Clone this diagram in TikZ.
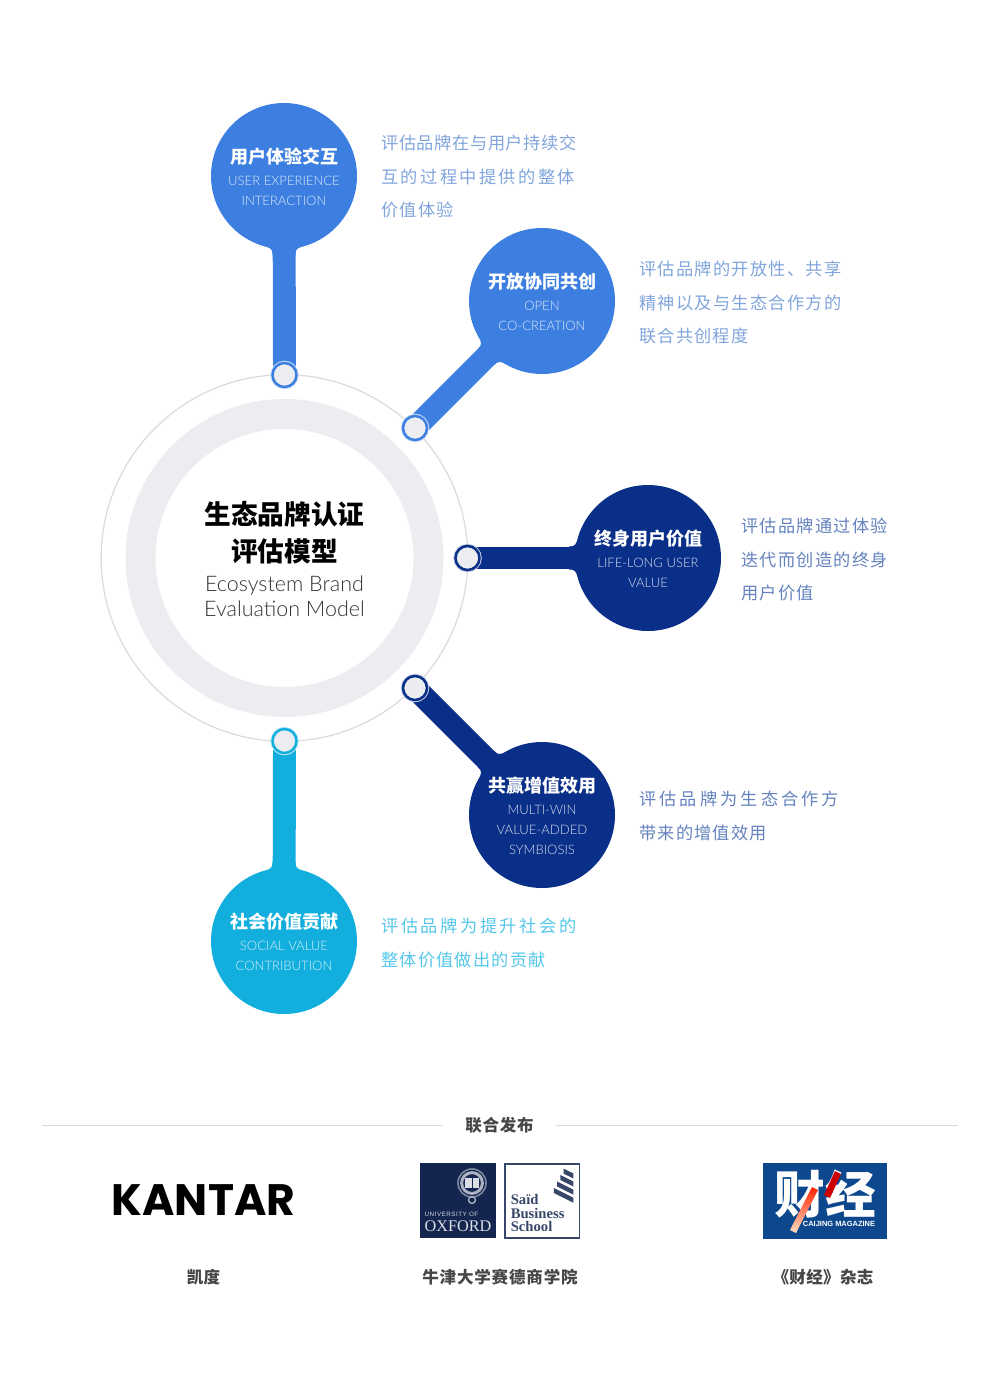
\documentclass[tikz,border=0pt]{standalone}
\usepackage{fontspec}
\usepackage{xcolor}
\usetikzlibrary{backgrounds}
\setmainfont{Noto Sans CJK SC}
\newfontfamily\enfont{Lato Light}
\newfontfamily\logofont{Poppins}
\newfontfamily\oxfont{Liberation Serif}
\newfontfamily\smallfont{Liberation Sans}
\definecolor{ringgrey}{RGB}{236, 237, 240}
\definecolor{linegrey}{RGB}{218, 218, 220}
\definecolor{midblue}{RGB}{60, 127, 224}
\definecolor{deepblue}{RGB}{10, 47, 136}
\definecolor{skyblue}{RGB}{18, 174, 221}
\definecolor{deskblue}{RGB}{128, 165, 220}
\definecolor{desknavy}{RGB}{100, 130, 190}
\definecolor{deskcyan}{RGB}{85, 198, 234}
\definecolor{oxnavy}{RGB}{20, 38, 80}
\definecolor{cjblue}{RGB}{13, 72, 142}
\definecolor{labelgrey}{RGB}{70, 70, 70}
\newcommand{\bubcn}{\rmfamily\fontsize{13.5}{18}\selectfont\bfseries\color{white}\rule{0pt}{12.5pt}}
\newcommand{\buben}{\enfont\fontsize{9.8}{15}\selectfont}
\newcommand{\lsp}[2]{{\addfontfeature{LetterSpace=#1}#2}}

\begin{document}
\begin{tikzpicture}[
  x=0.75pt, y=-0.75pt,
  bubble/.style={circle, inner sep=0pt, outer sep=0pt, minimum size=109.5pt, align=center,
    text=white!82!#1, fill=#1, font=\buben},
  dot/.style={circle, inner sep=0pt, outer sep=0pt, minimum size=18pt, fill=ringgrey, draw=#1,
    line width=1.9pt, preaction={draw=white!75!#1, line width=3.4pt}},
  stem/.style={line width=17.2pt, color=#1},
  desk/.style={anchor=north west, inner sep=0pt, align=left, text=#1,
    font=\fontsize{12.9}{25.1}\selectfont},
  caption/.style={inner sep=0pt, text=labelgrey, font=\fontsize{12.4}{16}\selectfont\bfseries}
]
  \useasboundingbox (0,0) rectangle (1000,1388);

  % centre
  \node[circle, draw=linegrey, line width=0.9pt, minimum size=275pt, inner sep=0pt] (outer) at (284.5,558) {};
  \node[circle, draw=ringgrey, line width=22.5pt, minimum size=216pt, inner sep=0pt] (ring) at (284.5,558) {};
  \node[inner sep=0pt, align=center, font=\fontsize{20}{28}\selectfont\bfseries] (title) at (284.5,533)
    {生态品牌认证\\评估模型};
  \node[inner sep=0pt, align=center, text=black!80, font=\enfont\fontsize{16.1}{18.8}\selectfont] (titleen) at (284.5,596)
    {Ecosystem Brand\\Evaluation Model};

  % bubbles
  \node[bubble=midblue] (user) at (284,176)
    {{\bubcn 用户体验交互}\\[1.5pt] USER EXPERIENCE\\ INTERACTION};
  \node[bubble=midblue] (open) at (542,301)
    {{\bubcn 开放协同共创}\\[1.5pt] OPEN\\ CO-CREATION};
  \node[bubble=deepblue] (life) at (648,558)
    {{\bubcn 终身用户价值}\\[1.5pt] LIFE-LONG USER\\ VALUE};
  \node[bubble=deepblue] (multi) at (542,815)
    {{\bubcn 共赢增值效用}\\[1.5pt] MULTI-WIN\\ VALUE-ADDED\\ SYMBIOSIS};
  \node[bubble=skyblue] (social) at (284,941)
    {{\bubcn 社会价值贡献}\\[1.5pt] SOCIAL VALUE\\ CONTRIBUTION};

  % dots on the ring
  \node[dot=midblue] (userdot) at (284.5,375) {};
  \node[dot=midblue] (opendot) at (415,428) {};
  \node[dot=deepblue] (lifedot) at (467.5,558) {};
  \node[dot=deepblue] (multidot) at (415,688) {};
  \node[dot=skyblue] (socialdot) at (284.5,741) {};

  \begin{scope}[on background layer]
    \draw[stem=midblue] (user.center) -- (userdot.center);
    \draw[stem=midblue] (open.center) -- (opendot.center);
    \draw[stem=deepblue] (life.center) -- (lifedot.center);
    \draw[stem=deepblue] (multi.center) -- (multidot.center);
    \draw[stem=skyblue] (social.center) -- (socialdot.center);
    % small fillets where a stem leaves its bubble
    \foreach \bub/\ang/\col in {user/-90/midblue, open/-135/midblue, life/180/deepblue, multi/135/deepblue, social/90/skyblue}
      \fill[\col, shift={(\bub.center)}, rotate=\ang] (60,0) -- (69.5,20) .. controls (72.5,13) and (73,11.5) .. (79,11.5)
        -- (79,-11.5) .. controls (73,-11.5) and (72.5,-13) .. (69.5,-20) -- cycle;
  \end{scope}

  % descriptions
  \node[desk=deskblue] (userdesk) at (381,135)
    {\lsp{3.5}{评估品牌在与用户持续交}\\ \lsp{14}{互的过程中提供的整体}\\ \lsp{7}{价值体验}};
  \node[desk=deskblue] (opendesk) at (639,261)
    {\lsp{7.5}{评估品牌的开放性、共享}\\ \lsp{7.5}{精神以及与生态合作方的}\\ \lsp{7}{联合共创程度}};
  \node[desk=desknavy] (lifedesk) at (741,518)
    {\lsp{7.5}{评估品牌通过体验}\\ \lsp{7.5}{迭代而创造的终身}\\ \lsp{7}{用户价值}};
  \node[desk=desknavy] (multidesk) at (639,791)
    {\lsp{18}{评估品牌为生态合作方}\\ \lsp{7}{带来的增值效用}};
  \node[desk=deskcyan] (socialdesk) at (381,918)
    {\lsp{15}{评估品牌为提升社会的}\\ \lsp{7}{整体价值做出的贡献}};

  % footer
  \node[caption] (joint) at (499.5,1125) {\lsp{4}{联合发布}};
  \coordinate (ruleL) at (42,1125);
  \coordinate (ruleR) at (958,1125);
  \draw[linegrey, line width=0.7pt] (ruleL) -- (443,1125);
  \draw[linegrey, line width=0.7pt] (556,1125) -- (ruleR);

  \node[inner sep=0pt, font=\logofont\fontsize{33}{36}\selectfont\bfseries] (kantar) at (203.5,1200) {KANTAR};
  \node[caption] (kantarcap) at (203.5,1277) {凯度};

  \fill[oxnavy] (420,1163) rectangle (496,1238);
  \draw[white!45!oxnavy, line width=1.2pt] (472,1183) circle (10.5pt);
  \draw[white!65!oxnavy, line width=2.2pt] (472,1183) circle (7.8pt);
  \fill[white!85!oxnavy] (465,1178) rectangle (479,1188);
  \draw[oxnavy, line width=0.5pt] (472,1178) -- (472,1188);
  \draw[white!65!oxnavy, line width=1pt] (472,1200) circle (2.6pt);
  \node[inner sep=0pt, text=white!80!oxnavy, font=\smallfont\fontsize{4.7}{5}\selectfont] (oxuni) at (451.5,1214) {\lsp{8}{UNIVERSITY OF}};
  \node[inner sep=0pt, text=white!85!oxnavy, font=\oxfont\fontsize{12.2}{13}\selectfont] (oxford) at (458,1226) {OXFORD};

  \draw[oxnavy!85!white, line width=1pt] (505,1164) rectangle (579.5,1238);
  \foreach \i in {0,1,2,3}
    \fill[oxnavy!85!white] (563.5-\i*3.2,1168.5+\i*6.5) -- (573.3,1173.4+\i*8.1) -- (573.3,1178.4+\i*8.1) -- (563.5-\i*3.2,1173.5+\i*6.5) -- cycle;
  \node[inner sep=0pt, anchor=north west, align=left, text=oxnavy!85!white, font=\oxfont\bfseries\fontsize{11}{10}\selectfont] (said) at (510.5,1194.5)
    {Saïd\\Business\\School};
  \node[caption] (saidcap) at (500,1277) {\lsp{5}{牛津大学赛德商学院}};

  \fill[cjblue] (763,1163) rectangle (887,1239);
  \node[inner sep=0pt, text=white, font=\fontsize{38}{40}\selectfont\bfseries] (caijing) at (825,1194) {财经};
  \shade[top color=red!75!orange, bottom color=orange!25!white] (812,1187) -- (818,1190) -- (796,1233) -- (790,1230) -- cycle;
  \fill[red!80!black] (835,1171) -- (841,1174) -- (830,1198) -- (824,1195) -- cycle;
  \node[inner sep=0pt, text=white, font=\smallfont\bfseries\fontsize{5.6}{6}\selectfont] (cjen) at (839,1224) {CAIJING MAGAZINE};
  \node[caption] (cjcap) at (823,1277) {\lsp{2}{《财经》杂志}};
\end{tikzpicture}
\end{document}
